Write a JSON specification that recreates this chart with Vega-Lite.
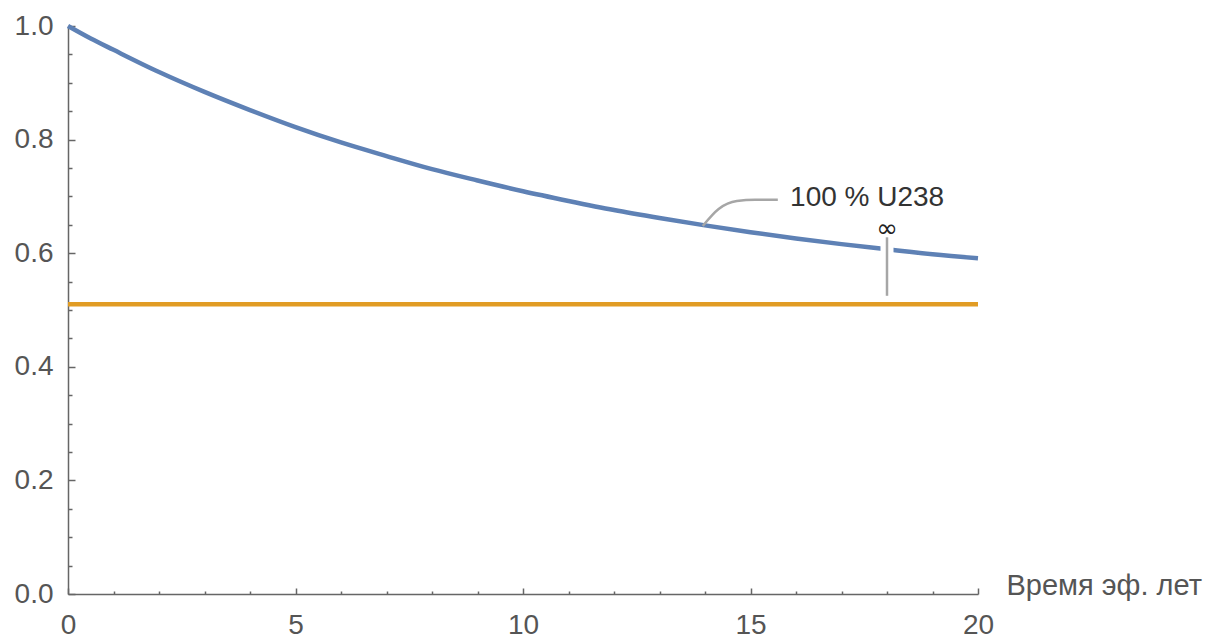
{
  "$schema": "https://vega.github.io/schema/vega-lite/v6.json",
  "width": 910,
  "height": 568,
  "autosize": "none",
  "padding": {"left": 68, "top": 26, "right": 254, "bottom": 47},
  "background": "white",
  "config": {"view": {"stroke": null}, "font": "Liberation Sans"},
  "datasets": {
    "decay": [
      {"t": 0, "k": 1.0},
      {"t": 0.5, "k": 0.978},
      {"t": 1, "k": 0.958},
      {"t": 2, "k": 0.919},
      {"t": 3, "k": 0.884},
      {"t": 4, "k": 0.852},
      {"t": 5, "k": 0.822},
      {"t": 6, "k": 0.795},
      {"t": 7, "k": 0.771},
      {"t": 8, "k": 0.748},
      {"t": 9, "k": 0.728},
      {"t": 10, "k": 0.709},
      {"t": 11, "k": 0.692},
      {"t": 12, "k": 0.676},
      {"t": 13, "k": 0.662},
      {"t": 14, "k": 0.649},
      {"t": 15, "k": 0.637},
      {"t": 16, "k": 0.626},
      {"t": 17, "k": 0.616},
      {"t": 18, "k": 0.607},
      {"t": 19, "k": 0.598},
      {"t": 20, "k": 0.591}
    ],
    "limit": [
      {"t": 0, "k": 0.51},
      {"t": 20, "k": 0.51}
    ],
    "limitCallout": [
      {"t": 18, "k": 0.525, "k2": 0.628, "label": "∞", "labelK": 0.6426}
    ],
    "decayCallout": [
      {"t": 13.95, "k": 0.648},
      {"t": 14.3, "k": 0.678},
      {"t": 14.7, "k": 0.692},
      {"t": 15.1, "k": 0.694},
      {"t": 15.6, "k": 0.694}
    ],
    "decayLabel": [
      {"t": 15.87, "k": 0.697, "label": "100 % U238"}
    ]
  },
  "encoding": {
    "x": {
      "field": "t",
      "type": "quantitative",
      "scale": {"domain": [0, 20], "nice": false, "zero": false},
      "axis": {
        "values": [0, 1, 2, 3, 4, 5, 6, 7, 8, 9, 10, 11, 12, 13, 14, 15, 16, 17, 18, 19, 20],
        "tickSize": {"condition": {"test": "datum.value % 5 === 0", "value": -6}, "value": -3},
        "labelExpr": "datum.value % 5 === 0 ? datum.label : ''",
        "labelOverlap": false,
        "labelFlush": false,
        "grid": false,
        "domainColor": "#666666",
        "tickColor": "#666666",
        "domainWidth": 1.5,
        "tickWidth": 1.5,
        "labelFont": "Liberation Sans",
        "labelFontSize": 28,
        "labelColor": "#555555",
        "labelPadding": 37,
        "labelBaseline": "middle",
        "title": "Время эф. лет",
        "titleX": 938,
        "titleY": 0,
        "titleAlign": "left",
        "titleBaseline": "alphabetic",
        "titleFont": "Liberation Sans",
        "titleFontSize": 29,
        "titleFontWeight": "normal",
        "titleColor": "#555555"
      }
    },
    "y": {
      "field": "k",
      "type": "quantitative",
      "scale": {"domain": [0, 1], "nice": false},
      "axis": {
        "values": [0, 0.05, 0.1, 0.15, 0.2, 0.25, 0.3, 0.35, 0.4, 0.45, 0.5, 0.55, 0.6, 0.65, 0.7, 0.75, 0.8, 0.85, 0.9, 0.95, 1.0],
        "tickSize": {"condition": {"test": "abs(datum.value * 5 - round(datum.value * 5)) < 0.001", "value": -7}, "value": -4},
        "labelExpr": "abs(datum.value * 5 - round(datum.value * 5)) < 0.001 ? format(datum.value, '.1f') : ''",
        "labelOverlap": false,
        "labelFlush": false,
        "grid": false,
        "domainColor": "#666666",
        "tickColor": "#666666",
        "domainWidth": 1.5,
        "tickWidth": 1.5,
        "labelFont": "Liberation Sans",
        "labelFontSize": 28,
        "labelColor": "#555555",
        "labelPadding": 22,
        "labelBaseline": "middle",
        "title": null
      }
    }
  },
  "layer": [
    {
      "data": {"name": "limit"},
      "mark": {"type": "line", "color": "#E19C24", "strokeWidth": 4.5}
    },
    {
      "data": {"name": "decay"},
      "mark": {"type": "line", "color": "#5E81B5", "strokeWidth": 4.5, "interpolate": "monotone"}
    },
    {
      "data": {"name": "limitCallout"},
      "mark": {"type": "rule", "color": "white", "strokeWidth": 13},
      "encoding": {"y2": {"field": "k2"}}
    },
    {
      "data": {"name": "limitCallout"},
      "mark": {"type": "rule", "color": "#a6a6a6", "strokeWidth": 2.5},
      "encoding": {"y2": {"field": "k2"}}
    },
    {
      "data": {"name": "decayCallout"},
      "mark": {"type": "line", "color": "#a6a6a6", "strokeWidth": 2.5, "interpolate": "monotone"}
    },
    {
      "data": {"name": "decayLabel"},
      "mark": {"type": "text", "align": "left", "baseline": "middle", "color": "#333333", "font": "Liberation Sans", "fontSize": 28},
      "encoding": {"text": {"field": "label"}}
    },
    {
      "data": {"name": "limitCallout"},
      "mark": {"type": "text", "align": "center", "baseline": "middle", "color": "#222222", "font": "DejaVu Sans", "fontSize": 26},
      "encoding": {
        "y": {"field": "labelK", "type": "quantitative"},
        "text": {"field": "label"}
      }
    }
  ]
}
